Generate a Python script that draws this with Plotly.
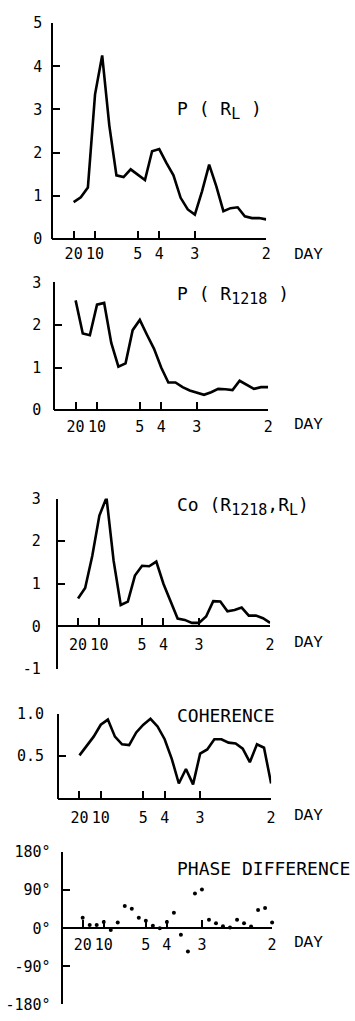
import plotly.graph_objects as go

# Spectral estimates at harmonic frequencies (cycles/day), 20-day to 2-day periods
FREQ = [0.0500, 0.0667, 0.0833, 0.1000, 0.1167, 0.1333, 0.1500, 0.1667,
        0.1833, 0.2000, 0.2167, 0.2333, 0.2500, 0.2667, 0.2833, 0.3000,
        0.3167, 0.3333, 0.3500, 0.3667, 0.3833, 0.4000, 0.4167, 0.4333,
        0.4500, 0.4667, 0.4833, 0.5000]

P_RL = [0.85, 0.96, 1.19, 3.35, 4.25, 2.63, 1.47, 1.43, 1.61, 1.49, 1.36, 2.03,
        2.08, 1.76, 1.47, 0.95, 0.68, 0.56, 1.10, 1.72, 1.22, 0.64, 0.71, 0.73,
        0.52, 0.48, 0.48, 0.45]

P_R1218 = [2.58, 1.80, 1.76, 2.48, 2.52, 1.58, 1.02, 1.10, 1.88, 2.12, 1.77, 1.44,
           1.00, 0.65, 0.65, 0.54, 0.46, 0.41, 0.36, 0.42, 0.50, 0.49, 0.47, 0.69,
           0.59, 0.50, 0.54, 0.54]

CO_R1218_RL = [0.65, 0.90, 1.65, 2.60, 3.02, 1.54, 0.50, 0.58, 1.19, 1.42, 1.41, 1.52,
               1.00, 0.60, 0.18, 0.15, 0.08, 0.08, 0.23, 0.59, 0.58, 0.35, 0.38, 0.44,
               0.25, 0.25, 0.19, 0.08]

COHERENCE = [0.51, 0.62, 0.73, 0.87, 0.93, 0.73, 0.64, 0.63, 0.78, 0.87, 0.94, 0.85,
             0.70, 0.47, 0.18, 0.35, 0.17, 0.53, 0.58, 0.70, 0.70, 0.66, 0.65, 0.59,
             0.43, 0.64, 0.60, 0.18]

PHASE_DIFF = [25, 8, 8, 15, -4, 14, 53, 46, 25, 18, 6, 0, 15, 37, -15, -55, 82, 92,
              20, 12, 5, 2, 20, 12, 4, 43, 48, 14]

PERIOD_TICKS = [0.05, 0.1, 0.2, 0.25, 1 / 3, 0.5]
PERIOD_LABELS = ["20", "10", "5", "4", "3", "2"]

W, H = 355, 1021
INK = "black"
NUM_FONT = dict(family="DejaVu Sans Mono", size=15, color=INK)
TITLE_FONT = dict(family="DejaVu Sans Mono", size=18, color=INK)
DAY_FONT = dict(family="Liberation Mono", size=16, color=INK)
SUB = '<sub><span style="font-size:15px">{}</span></sub>'


def fx(p):
    return p / W


def fy(p):
    return 1 - p / H


# frame geometry of each panel in pixels
panels = [
    dict(series=P_RL, mode="lines", left=53, right=270, top=14.4, bottom=233.9,
         xline=233.9, yrange=[0, 5], yticks=[0, 1, 2, 3, 4, 5],
         ytext=["0", "1", "2", "3", "4", "5"], ystand=6, xstand=1,
         title="P ( R" + SUB.format("L") + " )", title_xy=(177, 103), day_y=250.7),
    dict(series=P_R1218, mode="lines", left=55, right=272, top=278.4, bottom=408.3,
         xline=408.3, yrange=[0, 3], yticks=[0, 1, 2, 3],
         ytext=["0", "1", "2", "3"], ystand=9, xstand=3,
         title="P ( R" + SUB.format("1218") + " )", title_xy=(177, 291.7), day_y=423.3),
    dict(series=CO_R1218_RL, mode="lines", left=57.5, right=274, top=498.3, bottom=671.7,
         xline=628.3, yrange=[-1, 3], yticks=[-1, 0, 1, 2, 3],
         ytext=["-1", "0", "1", "2", "3"], ystand=12, xstand=5,
         title="Co (R" + SUB.format("1218") + ",R" + SUB.format("L") + ")",
         title_xy=(177, 506.7), day_y=645),
    dict(series=COHERENCE, mode="lines", left=59, right=275, top=717.3, bottom=804,
         xline=804, yrange=[0, 1.0], yticks=[0.5, 1.0],
         ytext=["0.5", "1.0"], ystand=10, xstand=5,
         title="COHERENCE", title_xy=(177, 719.3), day_y=821.7),
    dict(series=PHASE_DIFF, mode="markers", left=62.5, right=276, top=858.3, bottom=1013.3,
         xline=936, yrange=[-180, 180], yticks=[-180, -90, 0, 90, 180],
         ytext=["-180°", "-90°", "0°", "90°", "180°"], ystand=7, xstand=3,
         title="PHASE DIFFERENCE", title_xy=(178, 875), day_y=951),
]

fig = go.Figure()
layout = dict(
    width=W, height=H, margin=dict(l=0, r=0, t=0, b=0),
    paper_bgcolor="white", plot_bgcolor="rgba(0,0,0,0)",
    showlegend=False, annotations=[],
)

for i, p in enumerate(panels, start=1):
    xa = "x" if i == 1 else f"x{i}"
    ya = "y" if i == 1 else f"y{i}"
    if p["mode"] == "lines":
        fig.add_trace(go.Scatter(x=FREQ, y=p["series"], mode="lines",
                                 line=dict(color=INK, width=2.6),
                                 xaxis=xa, yaxis=ya, cliponaxis=False))
    else:
        fig.add_trace(go.Scatter(x=FREQ, y=p["series"], mode="markers",
                                 marker=dict(color=INK, size=4),
                                 xaxis=xa, yaxis=ya, cliponaxis=False))

    layout[f"xaxis{'' if i == 1 else i}"] = dict(
        domain=[fx(p["left"]), fx(p["right"])], range=[0, 0.5],
        anchor="free", position=fy(p["xline"]),
        showline=True, linecolor=INK, linewidth=2,
        showgrid=False, zeroline=False,
        ticks="inside", ticklen=7, tickwidth=2, tickcolor=INK,
        tickvals=PERIOD_TICKS, ticktext=PERIOD_LABELS,
        tickfont=NUM_FONT, ticklabelstandoff=p["xstand"],
        minor=dict(tickvals=[0.5], ticks="inside", ticklen=11, tickwidth=2,
                   tickcolor=INK, showgrid=False),
        fixedrange=True,
    )
    layout[f"yaxis{'' if i == 1 else i}"] = dict(
        domain=[fy(p["bottom"]), fy(p["top"])], range=p["yrange"],
        anchor="free", position=fx(p["left"]),
        showline=True, linecolor=INK, linewidth=2,
        showgrid=False, zeroline=False,
        ticks="inside", ticklen=7, tickwidth=2, tickcolor=INK,
        tickvals=p["yticks"], ticktext=p["ytext"],
        tickfont=NUM_FONT, ticklabelstandoff=p["ystand"],
        fixedrange=True,
    )
    tx, ty = p["title_xy"]
    layout["annotations"].append(dict(
        text=p["title"], x=fx(tx), y=fy(ty), xref="paper", yref="paper",
        xanchor="left", yanchor="middle", showarrow=False, font=TITLE_FONT))
    layout["annotations"].append(dict(
        text="DAY", x=fx(313), y=fy(p["day_y"]), xref="paper", yref="paper",
        xanchor="center", yanchor="middle", showarrow=False, font=DAY_FONT))

fig.update_layout(**layout)
fig.write_html("out.html")
